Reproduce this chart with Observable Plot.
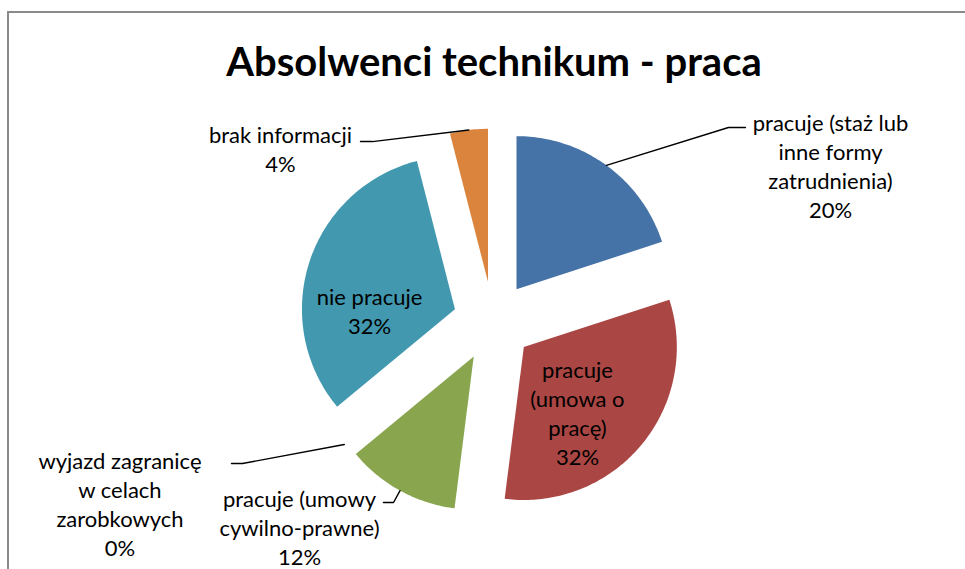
<!DOCTYPE html>
<html>
<head>
<meta charset="utf-8">
<script src="https://cdn.jsdelivr.net/npm/d3@7"></script>
<script src="https://cdn.jsdelivr.net/npm/@observablehq/plot@0.6"></script>
<style>
  html, body { margin: 0; padding: 0; background: #fff; }
  body { width: 965px; height: 569px; overflow: hidden; position: relative; font-family: Lato, "Open Sans", sans-serif; }
  #frame { position: absolute; left: 7px; top: 11px; width: 1100px; height: 1100px; border: 2px solid #8a8a8a; box-sizing: border-box; }
  #title { position: absolute; left: 0; top: 41px; width: 988px; text-align: center; font-size: 40px; font-weight: 700; color: #000; font-family: Lato, sans-serif; line-height: 1; }
  #chart { position: absolute; left: 0; top: 100px; }
</style>
</head>
<body>
<div id="frame"></div>
<div id="title">Absolwenci technikum - praca</div>
<div id="chart"></div>
<script>
// ---- data ----
const categories = [
  "pracuje (staż lub inne formy zatrudnienia)",
  "pracuje (umowa o pracę)",
  "pracuje (umowy cywilno-prawne)",
  "wyjazd zagranicę w celach zarobkowych",
  "nie pracuje",
  "brak informacji"
];
const values = [20, 32, 12, 0, 32, 4];
const labelLines = [
  ["pracuje (staż lub", "inne formy", "zatrudnienia)"],
  ["pracuje", "(umowa o", "pracę)"],
  ["pracuje (umowy", "cywilno-prawne)"],
  ["wyjazd zagranicę", "w celach", "zarobkowych"],
  ["nie pracuje"],
  ["brak informacji"]
];
const colors = ["#4572A7", "#AA4643", "#89A54E", "#71588F", "#4198AF", "#DB843D"];

// ---- layout (pie radius = 1 unit, centre at 0,0, y pointing down) ----
const W = 965, H = 469, PX = 153;           // pixels per radius
const CX = 492.5, CY = 221;                  // pie centre in svg px
const explode = 40 / PX;
// label block centres and leader elbows, in radius units relative to pie centre
const labelPos = [
  {x: 2.206, y: -1.020, outside: true, elbow: [1.539, -1.268], end: [1.650, -1.268]},
  {x: 0.552, y: 0.595, outside: false},
  {x: -1.265, y: 1.340, outside: true, elbow: [-0.650, 1.183], end: [-0.716, 1.183]},
  {x: -2.438, y: 1.190, outside: true, elbow: [-1.637, 0.928], end: [-1.709, 0.928]},
  {x: -0.807, y: -0.075, outside: false},
  {x: -1.389, y: -1.131, outside: true, elbow: [-0.788, -1.176], end: [-0.866, -1.176]}
];

const data = categories.map((c, i) => ({category: c, value: values[i], i}));
const arcs = d3.pie().sort(null).value(d => d.value)(data);
const dir = a => [Math.sin(a), -Math.cos(a)];

const slicePts = [];
const leaderPts = [];
const labels = [];
const total = d3.sum(values);
arcs.forEach(a => {
  const mid = (a.startAngle + a.endAngle) / 2;
  const [ux, uy] = dir(mid);
  const cx = ux * explode, cy = uy * explode;
  const d = a.data;
  if (a.value > 0) {
    slicePts.push({category: d.category, x: cx, y: cy});
    const n = Math.max(2, Math.ceil((a.endAngle - a.startAngle) / (Math.PI / 180)));
    for (let k = 0; k <= n; k++) {
      const t = a.startAngle + (a.endAngle - a.startAngle) * k / n;
      const [vx, vy] = dir(t);
      slicePts.push({category: d.category, x: cx + vx, y: cy + vy});
    }
  }
  const lp = labelPos[d.i];
  if (lp.outside) {
    leaderPts.push({category: d.category, x: cx + ux, y: cy + uy});
    leaderPts.push({category: d.category, x: lp.elbow[0], y: lp.elbow[1]});
    leaderPts.push({category: d.category, x: lp.end[0], y: lp.end[1]});
  }
  const pct = Math.round(d.value / total * 100) + "%";
  labels.push({x: lp.x, y: lp.y, text: [...labelLines[d.i], pct].join("\n")});
});

const chart = Plot.plot({
  width: W,
  height: H,
  margin: 0,
  x: {domain: [-CX / PX, (W - CX) / PX], range: [0, W], axis: null},
  y: {domain: [-CY / PX, (H - CY) / PX], range: [0, H], axis: null},
  color: {domain: categories, range: colors},
  style: {fontFamily: "Lato, 'Open Sans', sans-serif", background: "transparent", overflow: "visible"},
  marks: [
    Plot.line(slicePts, {x: "x", y: "y", z: "category", fill: "category", stroke: null, curve: "linear-closed"}),
    Plot.line(leaderPts, {x: "x", y: "y", z: "category", stroke: "#000", strokeWidth: 1.4}),
    Plot.text(labels, {x: "x", y: "y", text: "text", fontSize: 22, lineHeight: 1.32, textAnchor: "middle", lineAnchor: "middle", fill: "#000"})
  ]
});
document.getElementById("chart").appendChild(chart);
</script>
</body>
</html>
